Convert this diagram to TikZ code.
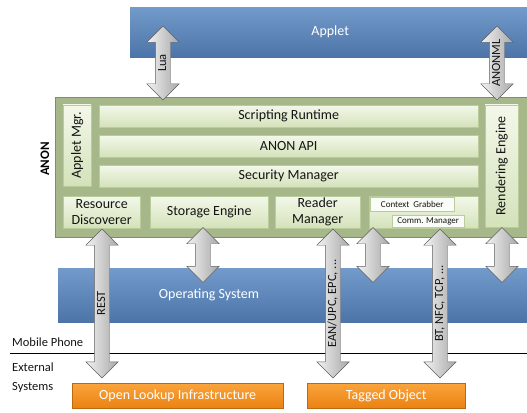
\documentclass[tikz,border=0pt]{standalone}
\usepackage{fontspec}
\setmainfont{Carlito}
\usetikzlibrary{shapes.arrows,positioning}
\definecolor{bartop}{RGB}{114,154,202}
\definecolor{barbottom}{RGB}{76,116,168}
\definecolor{anonfill}{RGB}{166,184,138}
\definecolor{anondraw}{RGB}{124,144,96}
\definecolor{blocktop}{RGB}{243,248,234}
\definecolor{blockbottom}{RGB}{212,226,186}
\definecolor{blockdraw}{RGB}{186,204,156}
\definecolor{orangetop}{RGB}{250,164,60}
\definecolor{orangebottom}{RGB}{234,130,18}
\definecolor{arrowlight}{RGB}{242,242,242}
\definecolor{arrowdark}{RGB}{168,168,168}
\definecolor{arrowdraw}{RGB}{95,95,95}
\definecolor{labelcolor}{RGB}{20,20,20}
\tikzset{
bartext/.style={
  inner sep=0pt,
  text=white,
  font=\fontsize{14}{15}\selectfont
},
layerbar/.style={
  draw=none,
  top color=bartop,
  bottom color=barbottom,
  bartext
},
anonbox/.style={
  draw=anondraw,
  fill=anonfill,
  line width=1pt,
  inner sep=0pt
},
innerblock/.style={
  draw=blockdraw,
  top color=blocktop,
  bottom color=blockbottom,
  inner sep=0pt,
  align=center,
  text=labelcolor,
  font=\fontsize{14}{16}\selectfont
},
tinyblock/.style={
  draw=blockdraw,
  fill=white!60!blocktop,
  inner sep=0pt,
  text=labelcolor,
  font=\fontsize{9}{10}\selectfont
},
extblock/.style={
  draw=orangebottom!80!black,
  top color=orangetop,
  bottom color=orangebottom,
  inner sep=0pt,
  text=white,
  font=\fontsize{14}{15}\selectfont
},
fatarrow/.style={
  double arrow,
  draw=arrowdraw,
  left color=arrowlight,
  right color=arrowdark,
  double arrow head extend=8.5pt,
  minimum width=32pt,
  inner xsep=2pt,
  inner ysep=1.5pt,
  text height=9pt,
  text depth=3pt,
  rotate=90,
  text=labelcolor,
  font=\fontsize{12.5}{13}\selectfont
},
sidelabel/.style={
  anchor=west,
  align=left,
  inner sep=0pt,
  text=labelcolor,
  font=\fontsize{12.5}{19}\selectfont
}
}
\begin{document}
\begin{tikzpicture}[x=1pt,y=-1pt]
  \useasboundingbox (0,0) rectangle (527,412);

  % Applet and ANON layers
  \node[layerbar, anchor=north west, minimum width=400, minimum height=50] (applet) at (130,7) {Applet};
  \node[anonbox, anchor=north west, minimum width=480, minimum height=140] (anon) at (55,97) {};
  \node[font=\bfseries\fontsize{13}{14}\selectfont, rotate=90, inner sep=0pt] (anonname) at (45,159) {ANON};

  % ANON components
  \node[innerblock, anchor=north west, minimum width=81, minimum height=28, rotate=90] (appletmgr) at (63,186) {Applet Mgr.};
  \node[innerblock, anchor=north west, minimum width=379, minimum height=22] (scripting) at (99,105) {Scripting Runtime};
  \node[innerblock, anchor=north west, minimum width=379, minimum height=22] (api) at (99,135) {ANON API};
  \node[innerblock, anchor=north west, minimum width=379, minimum height=22] (security) at (99,165) {Security Manager};
  \node[innerblock, anchor=north west, minimum width=122, minimum height=33, rotate=90] (rendering) at (485,227) {Rendering Engine};
  \node[innerblock, anchor=north west, minimum width=77, minimum height=32] (resource) at (63,196) {Resource\\Discoverer};
  \node[innerblock, anchor=north west, minimum width=118, minimum height=32] (storage) at (150,196) {Storage Engine};
  \node[innerblock, anchor=north west, minimum width=85, minimum height=32] (reader) at (275,196) {Reader\\Manager};
  \node[innerblock, anchor=north west, minimum width=109, minimum height=32] (context) at (369,196) {};
  \node[tinyblock, anchor=north west, minimum width=84, minimum height=14] (grabber) at (370,197) {Context~ Grabber};
  \node[tinyblock, anchor=north west, minimum width=72, minimum height=12] (comm) at (392,215) {Comm. Manager};

  % Operating system layer
  \node[layerbar, anchor=north west, minimum width=472, minimum height=54] (os) at (58,268) {};
  \node[bartext] (oslabel) at (209,295) {Operating System};

  % Mobile phone border
  \coordinate (lineleft) at (10,353);
  \coordinate (lineright) at (530,353);
  \draw[line width=0.8pt] (lineleft) -- (lineright);
  \node[sidelabel] (mobile) at (12,342) {Mobile Phone};
  \node[sidelabel] (external) at (12,378) {External\\Systems};

  % External systems
  \node[extblock, anchor=north west, minimum width=211, minimum height=25] (lookup) at (72,383) {Open Lookup Infrastructure};
  \node[extblock, anchor=north west, minimum width=158, minimum height=25] (tagged) at (307,383) {Tagged Object};

  % Interfaces
  \node[fatarrow, minimum height=74] (lua) at (163,63) {Lua};
  \node[fatarrow, minimum height=74] (anonml) at (497,63) {ANONML};
  \node[fatarrow, minimum height=149] (rest) at (102,303.5) {REST};
  \node[fatarrow, minimum height=55] (storageos) at (203,255) {};
  \node[fatarrow, minimum height=149] (codes) at (333,303.5) {EAN/UPC, EPC, ...};
  \node[fatarrow, minimum height=55] (contextos) at (373,255) {};
  \node[fatarrow, minimum height=149] (links) at (440,303.5) {BT, NFC, TCP, ...};
  \node[fatarrow, minimum height=55] (renderos) at (502,255) {};
\end{tikzpicture}
\end{document}
